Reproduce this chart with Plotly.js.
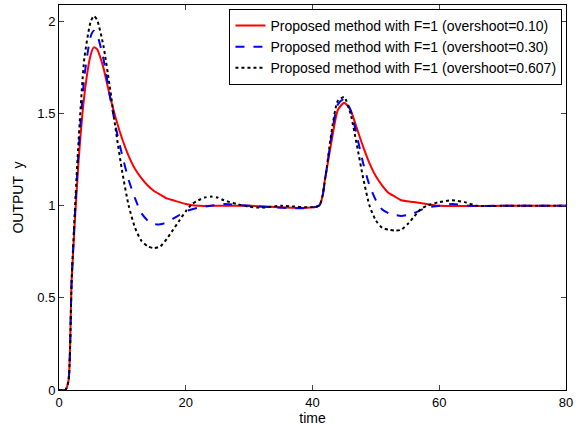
<!DOCTYPE html>
<html>
<head>
<script src="https://cdn.plot.ly/plotly-3.0.1.min.js"></script>
<style>body{margin:0;background:#fff}</style>
</head>
<body>
<div id="myDiv" style="width:584px;height:426px"></div>
<script>
var tRed = [0, 1, 1.5, 2, 3, 4, 5, 5.5, 6, 7, 8, 9, 10, 11, 12, 13, 14, 15, 16, 17, 18, 20, 22, 25, 30, 41, 42, 43, 44, 45, 46, 47, 48, 49, 50, 51, 52, 53, 54, 56, 58, 60, 70, 80];
var yRed = [0, 0, 0.05, 0.6, 1.2, 1.6, 1.82, 1.86, 1.85, 1.75, 1.6, 1.47, 1.36, 1.27, 1.2, 1.15, 1.11, 1.08, 1.06, 1.04, 1.03, 1.01, 1.0, 1.0, 1.0, 1.0, 1.15, 1.35, 1.52, 1.56, 1.52, 1.42, 1.32, 1.23, 1.16, 1.11, 1.07, 1.05, 1.03, 1.02, 1.01, 1.0, 1.0, 1.0];

var tBlue = [0, 1, 1.5, 2, 3, 4, 5, 5.5, 6, 7, 8, 9, 10, 11, 12, 13, 14, 15, 16, 17, 18, 19, 20, 22, 24, 26, 30, 41, 42, 43, 44, 45, 46, 47, 48, 49, 50, 51, 52, 53, 54, 55, 56, 58, 60, 62, 65, 70, 80];
var yBlue = [0, 0, 0.05, 0.6, 1.25, 1.7, 1.92, 1.95, 1.93, 1.8, 1.6, 1.42, 1.27, 1.14, 1.04, 0.96, 0.92, 0.9, 0.9, 0.91, 0.93, 0.95, 0.97, 0.99, 1.0, 1.01, 1.0, 1.0, 1.15, 1.38, 1.55, 1.58, 1.52, 1.38, 1.23, 1.11, 1.03, 0.98, 0.96, 0.95, 0.945, 0.95, 0.96, 0.99, 1.0, 1.01, 1.0, 1.0, 1.0];

var tBlack = [0, 1, 1.5, 2, 3, 4, 5, 5.5, 6, 7, 8, 9, 10, 11, 12, 13, 14, 15, 16, 17, 18, 19, 20, 21, 22, 23, 24, 25, 26, 28, 30, 32, 35, 41, 42, 43, 44, 45, 46, 47, 48, 49, 50, 51, 52, 53, 54, 55, 56, 57, 58, 60, 62, 64, 66, 70, 80];
var yBlack = [0, 0, 0.05, 0.6, 1.3, 1.8, 2.0, 2.03, 2.01, 1.87, 1.65, 1.4, 1.18, 1.0, 0.88, 0.81, 0.78, 0.77, 0.78, 0.82, 0.87, 0.92, 0.97, 1.01, 1.03, 1.045, 1.05, 1.045, 1.03, 1.01, 0.995, 0.99, 1.0, 1.0, 1.15, 1.4, 1.57, 1.59, 1.5, 1.33, 1.15, 1.0, 0.92, 0.88, 0.87, 0.865, 0.87, 0.9, 0.94, 0.98, 1.0, 1.02, 1.03, 1.02, 1.0, 1.0, 1.0];

var names = ['Proposed method with F=1 (overshoot=0.10)', 'Proposed method with F=1 (overshoot=0.30)', 'Proposed method with F=1 (overshoot=0.607)'];
var xTicks = [0, 20, 40, 60, 80];
var yTicks = [0, 0.5, 1, 1.5, 2];
var yTickText = ['0', '0.5', '1', '1.5', '2'];

var data = [
  {x: tRed, y: yRed, name: names[0], mode: 'lines', line: {color: 'rgb(255,0,0)', width: 2, shape: 'spline', smoothing: 0.6}},
  {x: tBlue, y: yBlue, name: names[1], mode: 'lines', line: {color: 'rgb(0,0,255)', width: 2, dash: 'dash', shape: 'spline', smoothing: 0.6}},
  {x: tBlack, y: yBlack, name: names[2], mode: 'lines', line: {color: 'black', width: 2, dash: 'dot', shape: 'spline', smoothing: 0.6}}
];

var layout = {
  width: 584, height: 426,
  margin: {l: 59, r: 18, t: 5, b: 36},
  font: {family: 'Liberation Sans, Arial, sans-serif', size: 13, color: 'black'},
  paper_bgcolor: 'white', plot_bgcolor: 'white',
  showlegend: true,
  legend: {x: 0.993, y: 0.99, xanchor: 'right', yanchor: 'top', bordercolor: 'black', borderwidth: 1, bgcolor: 'white', font: {size: 14}, tracegroupgap: 0},
  xaxis: {range: [0, 80], tickvals: xTicks, ticks: 'inside', ticklen: 5, showline: true, mirror: 'ticks', linecolor: 'black', linewidth: 1, showgrid: false, zeroline: false,
    title: {text: 'time', standoff: 2, font: {size: 14}}},
  yaxis: {range: [0, 2.09], tickvals: yTicks, ticktext: yTickText, ticks: 'inside', ticklen: 5, showline: true, mirror: 'ticks', linecolor: 'black', linewidth: 1, showgrid: false, zeroline: false,
    title: {text: 'OUTPUT  y', standoff: 10, font: {size: 14}}}
};

Plotly.newPlot('myDiv', data, layout, {displayModeBar: false});
</script>
</body>
</html>
